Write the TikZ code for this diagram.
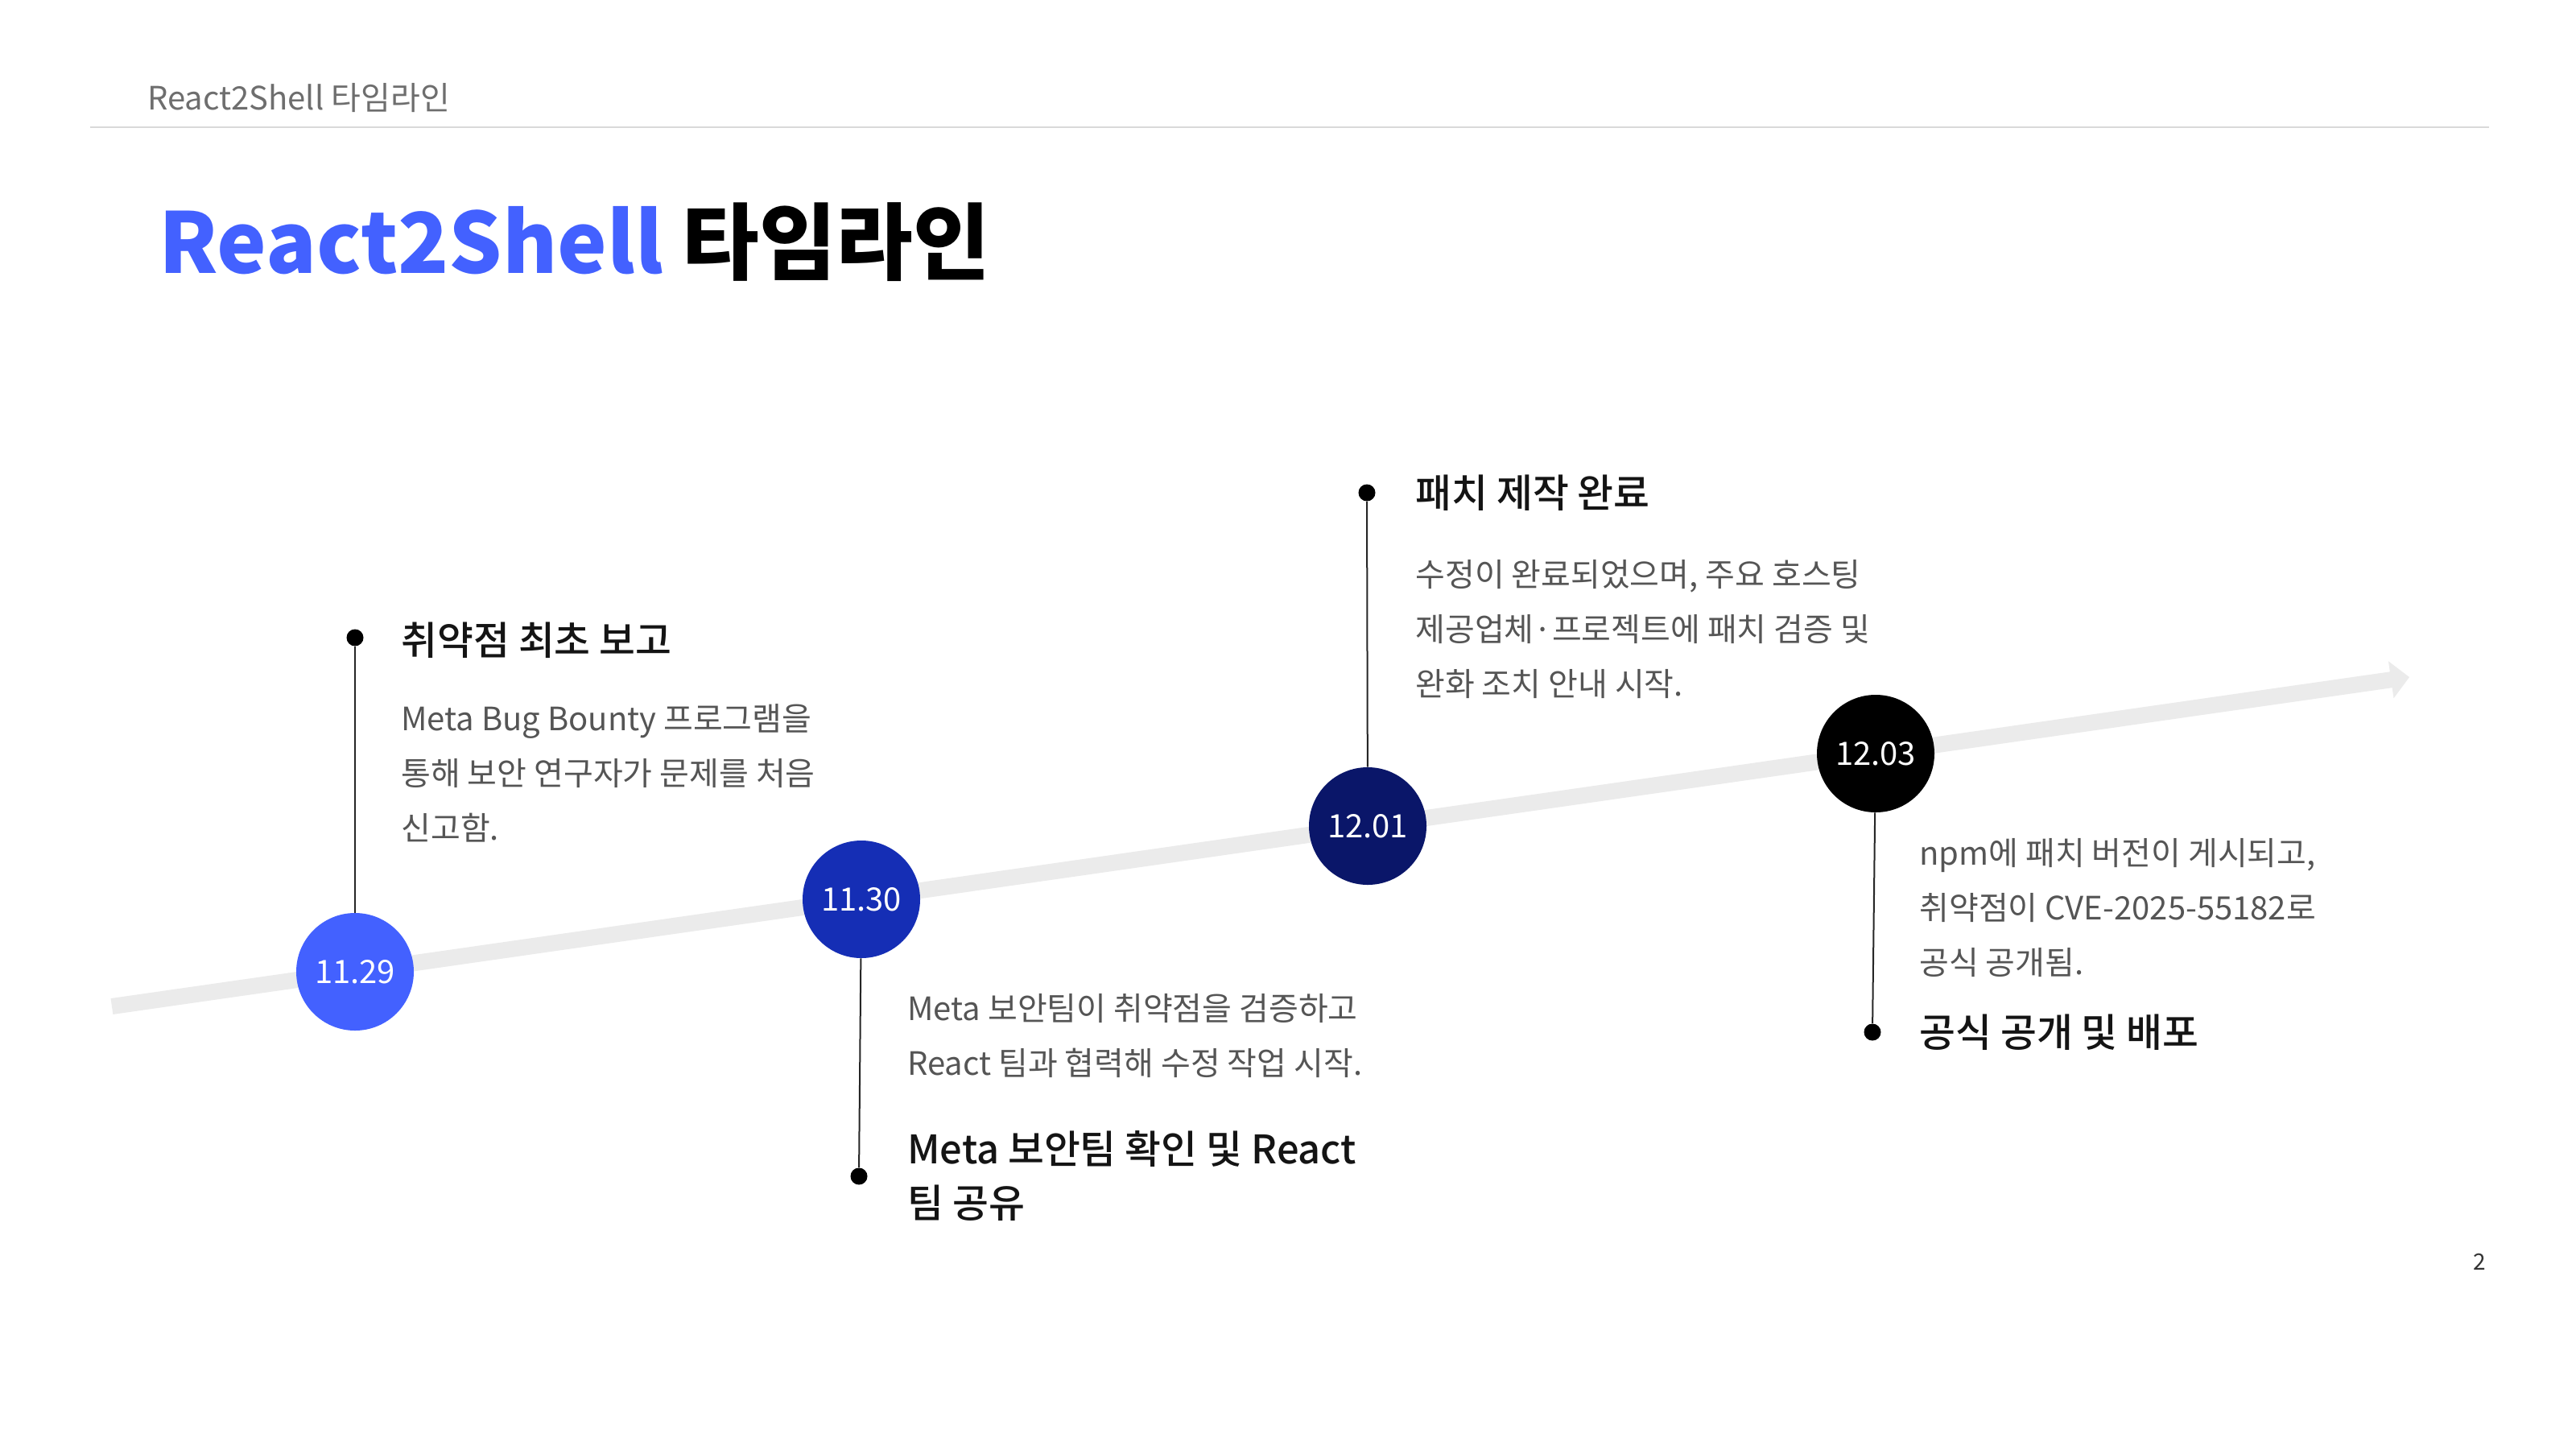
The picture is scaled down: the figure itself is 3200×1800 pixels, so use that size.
\documentclass[tikz,border=0pt]{standalone}
\usepackage{fontspec}
\setmainfont{Noto Sans CJK KR}
\newfontfamily\krmed{Noto Sans CJK KR Medium}
\usetikzlibrary{arrows.meta}
\definecolor{tblue}{HTML}{4361FF}
\definecolor{cone}{HTML}{4361FF}
\definecolor{ctwo}{HTML}{152EB5}
\definecolor{cthree}{HTML}{0A1669}
\definecolor{cfour}{HTML}{000000}
\definecolor{tlgray}{HTML}{EBEBEB}
\definecolor{bodygray}{HTML}{555555}
\definecolor{hdrgray}{HTML}{6E6E6E}
\definecolor{rulegray}{HTML}{D9D9D9}
\newcommand\hstrut{\rule{0pt}{24pt}}
\newcommand\bstrut{\rule{0pt}{20pt}}
\begin{document}
\begin{tikzpicture}[x=0.5pt,y=-0.5pt,
  datecirc/.style={circle, minimum size=73pt, inner sep=0pt, text=white, font=\fontsize{20pt}{24pt}\selectfont},
  pin/.style={circle, fill=black, minimum size=10.5pt, inner sep=0pt},
  conn/.style={draw=black!85, line width=1pt},
  heading/.style={anchor=north west, inner sep=0pt, align=left, text=black!92, font=\krmed\fontsize{24.4pt}{33.5pt}\selectfont},
  bodytext/.style={anchor=north west, inner sep=0pt, align=left, text=bodygray, font=\fontsize{20pt}{34pt}\selectfont},
  timeline/.style={draw=tlgray, line width=10pt, -{Triangle[length=11.5pt,width=22.5pt]}}
]
\useasboundingbox[fill=white] (0,0) rectangle (3200,1800);

% header
\node[anchor=base west, inner sep=0pt, text=hdrgray, font=\fontsize{20pt}{24pt}\selectfont] (hdr) at (183,136) {React2Shell 타임라인};
\coordinate (hl) at (112,158);
\coordinate (hr) at (3092,158);
\draw[rulegray, line width=1pt] (hl) -- (hr);

% title
\node[anchor=base west, inner sep=0pt, font=\bfseries\fontsize{52pt}{60pt}\selectfont] (title) at (197,339) {\textcolor{tblue}{React2Shell} 타임라인};

% timeline
\coordinate (tstart) at (139,1250);
\coordinate (tend) at (2993,841);
\draw[timeline] (tstart) -- (tend);

% pins
\node[pin] (p1) at (441,792) {};
\node[pin] (p2) at (1067,1461) {};
\node[pin] (p3) at (1698,612) {};
\node[pin] (p4) at (2326,1282) {};

% date circles
\node[datecirc, fill=cone] (d1) at (441,1207) {11.29};
\node[datecirc, fill=ctwo] (d2) at (1070,1117) {11.30};
\node[datecirc, fill=cthree] (d3) at (1699,1026) {12.01};
\node[datecirc, fill=cfour] (d4) at (2330,936) {12.03};

% connectors
\draw[conn] (p1) -- (d1);
\draw[conn] (d2) -- (p2);
\draw[conn] (p3) -- (d3);
\draw[conn] (d4) -- (p4);

% texts
\node[heading] (h1) at (498,765) {\hstrut 취약점 최초 보고};
\node[bodytext] (b1) at (498,867) {\bstrut Meta Bug Bounty 프로그램을\\통해 보안 연구자가 문제를 처음\\신고함.};

\node[bodytext] (b2) at (1127,1227) {\bstrut Meta 보안팀이 취약점을 검증하고\\React 팀과 협력해 수정 작업 시작.};
\node[heading] (h2) at (1127,1397) {\hstrut Meta 보안팀 확인 및 React\\팀 공유};

\node[heading] (h3) at (1758,582) {\hstrut 패치 제작 완료};
\node[bodytext] (b3) at (1758,688) {\bstrut 수정이 완료되었으며, 주요 호스팅\\제공업체·프로젝트에 패치 검증 및\\완화 조치 안내 시작.};

\node[bodytext] (b4) at (2384,1034) {\bstrut npm에 패치 버전이 게시되고,\\취약점이 CVE-2025-55182로\\공식 공개됨.};
\node[heading] (h4) at (2384,1252) {\hstrut 공식 공개 및 배포};

% page number
\node[text=black!80, font=\fontsize{14pt}{16pt}\selectfont] (pg) at (3080,1567) {2};
\end{tikzpicture}
\end{document}
